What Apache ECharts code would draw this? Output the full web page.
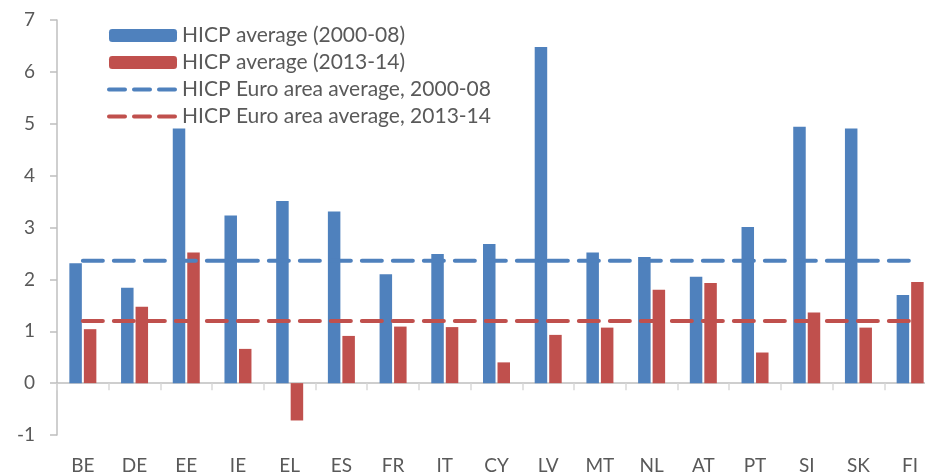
<!DOCTYPE html>
<html lang="en">
  <head>
    <meta charset="UTF-8" />
    <title>HICP averages</title>
    <script src="https://cdn.jsdelivr.net/npm/echarts@6/dist/echarts.min.js"></script>
    <style>
      html, body { margin: 0; padding: 0; background: #fff; }
    </style>
  </head>
  <body>
    <div id="main" style="width: 925px; height: 474px"></div>
    <script type="text/javascript">
      // data
      const countries = ["BE", "DE", "EE", "IE", "EL", "ES", "FR", "IT", "CY", "LV", "MT", "NL", "AT", "PT", "SI", "SK", "FI"];
      const hicp0008 = [2.31, 1.84, 4.91, 3.23, 3.51, 3.31, 2.10, 2.49, 2.68, 6.48, 2.52, 2.43, 2.05, 3.01, 4.94, 4.91, 1.70];
      const hicp1314 = [1.04, 1.47, 2.52, 0.66, -0.72, 0.91, 1.09, 1.08, 0.40, 0.93, 1.07, 1.80, 1.93, 0.59, 1.36, 1.07, 1.95];
      const euroAvg0008 = 2.36;
      const euroAvg1314 = 1.20;
      const yTicks = [-1, 0, 1, 2, 3, 4, 5, 6, 7];

      const blue = "#4F81BD";
      const red = "#C0504D";
      const font = "Lato";
      const textGrey = "#595959";

      let myChart = echarts.init(document.getElementById("main"));

      // legend entries for the dashed lines: hide the symbol dot, keep the dashes
      const lineLegend = (name, color) => ({
        name: name,
        itemStyle: { opacity: 0 },
        lineStyle: { color: color, width: 4, type: [16, 9], cap: "round" },
      });

      let options = {
        animation: false,
        textStyle: { fontFamily: font },
        grid: { left: 57, top: 20, bottom: 39, width: 879, outerBoundsMode: "none" },
        legend: {
          orient: "vertical",
          left: 107,
          top: 25,
          padding: 0,
          itemWidth: 68,
          itemHeight: 13,
          itemGap: 6,
          textStyle: { fontSize: 21, lineHeight: 21, color: textGrey, fontFamily: font },
          data: [
            "HICP average (2000-08)",
            "HICP average (2013-14)",
            lineLegend("HICP Euro area average, 2000-08", blue),
            lineLegend("HICP Euro area average, 2013-14", red),
          ],
        },
        xAxis: [
          {
            // axis line with ticks at zero
            type: "category",
            data: countries,
            axisLine: { onZero: true, lineStyle: { color: "#BFBFBF", width: 1.5 } },
            axisTick: { show: true, length: 7, lineStyle: { color: "#D9D9D9", width: 1.5 } },
            axisLabel: { show: false },
          },
          {
            // labels at the bottom
            type: "category",
            position: "bottom",
            data: countries,
            axisLine: { show: false, onZero: false },
            axisTick: { show: false },
            axisLabel: { margin: 21, fontSize: 19, color: textGrey, fontFamily: font },
          },
        ],
        yAxis: {
          type: "value",
          min: yTicks[0],
          max: yTicks[yTicks.length - 1],
          interval: 1,
          splitLine: { show: false },
          axisLine: { show: true, lineStyle: { color: "#BFBFBF", width: 1.5 } },
          axisTick: { show: true, length: 7, lineStyle: { color: "#BFBFBF", width: 1.5 } },
          axisLabel: { margin: 22, fontSize: 19, color: textGrey, fontFamily: font },
        },
        series: [
          {
            name: "HICP average (2000-08)",
            type: "bar",
            data: hicp0008,
            barWidth: 12.5,
            barGap: "16%",
            itemStyle: { color: blue },
          },
          {
            name: "HICP average (2013-14)",
            type: "bar",
            data: hicp1314,
            barWidth: 12.5,
            barGap: "16%",
            itemStyle: { color: red },
          },
          {
            name: "HICP Euro area average, 2000-08",
            type: "line",
            data: countries.map(() => euroAvg0008),
            symbol: "none",
            itemStyle: { color: blue },
            lineStyle: { color: blue, width: 4, type: [20, 11], cap: "round" },
            z: 5,
          },
          {
            name: "HICP Euro area average, 2013-14",
            type: "line",
            data: countries.map(() => euroAvg1314),
            symbol: "none",
            itemStyle: { color: red },
            lineStyle: { color: red, width: 4, type: [20, 11], cap: "round" },
            z: 5,
          },
        ],
      };

      myChart.setOption(options);
    </script>
  </body>
</html>
